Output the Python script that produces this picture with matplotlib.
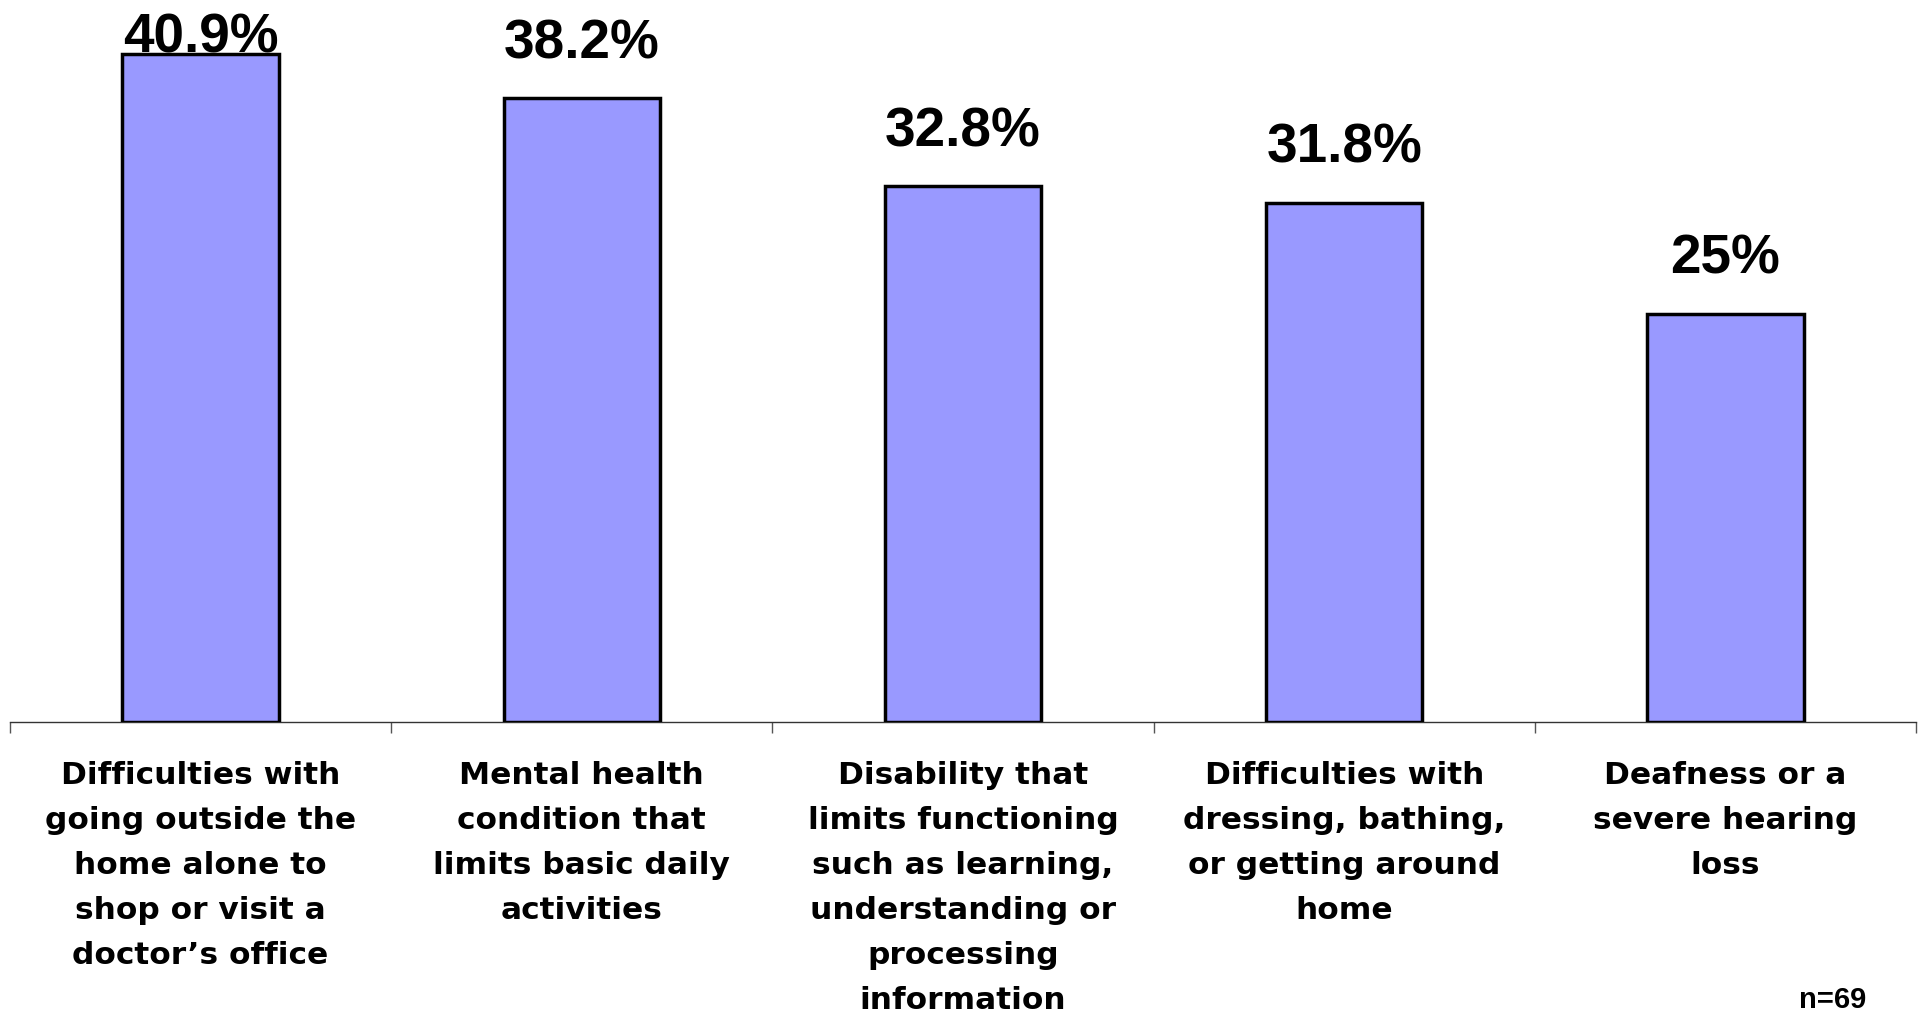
import matplotlib
matplotlib.use("Agg")
import matplotlib.pyplot as plt
from matplotlib.transforms import blended_transform_factory

categories = [
    "Difficulties with\ngoing outside the\nhome alone to\nshop or visit a\ndoctor\u2019s office",
    "Mental health\ncondition that\nlimits basic daily\nactivities",
    "Disability that\nlimits functioning\nsuch as learning,\nunderstanding or\nprocessing\ninformation",
    "Difficulties with\ndressing, bathing,\nor getting around\nhome",
    "Deafness or a\nsevere hearing\nloss",
]
values = [40.9, 38.2, 32.8, 31.8, 25.0]
value_labels = ["40.9%", "38.2%", "32.8%", "31.8%", "25%"]
note = "n=69"

W, H = 1925, 1014
fig = plt.figure(figsize=(W / 100, H / 100), dpi=100)
ax = fig.add_axes([10 / W, (H - 722) / H, 1906 / W, 722 / H])

x = list(range(len(values)))
ax.bar(x, values, width=0.41, color="#9999FF", edgecolor="black", linewidth=2.5, zorder=3)
ax.set_xlim(-0.5, len(values) - 0.5)
ymax = 722 / 16.33
ax.set_ylim(0, ymax)

for s in ["top", "right", "left"]:
    ax.spines[s].set_visible(False)
ax.spines["bottom"].set_color("#333333")
ax.spines["bottom"].set_linewidth(1.0)
ax.set_yticks([])
ax.set_xticks([i - 0.5 for i in range(len(values) + 1)])
ax.set_xticklabels([])
ax.tick_params(axis="x", direction="out", length=8, width=1.0, color="#555555")

for i, (v, lab) in enumerate(zip(values, value_labels)):
    y = min(v + 2.45, 41.0)
    ax.text(i, y, lab, ha="center", va="baseline", fontsize=39.5,
            fontweight="bold", family="Liberation Sans", color="black", zorder=4)

trans = blended_transform_factory(ax.transData, fig.transFigure)
for i, c in enumerate(categories):
    ax.text(i, 1 - 761 / H, c, ha="center", va="top", fontsize=22.5,
            fontweight="bold", family="DejaVu Sans", linespacing=1.7,
            transform=trans, color="black")

fig.text(1833 / W, 1 - 986 / H, note, ha="center", va="top", fontsize=21,
         fontweight="bold", family="Liberation Sans", color="black")

fig.savefig("out.png", dpi=100)
